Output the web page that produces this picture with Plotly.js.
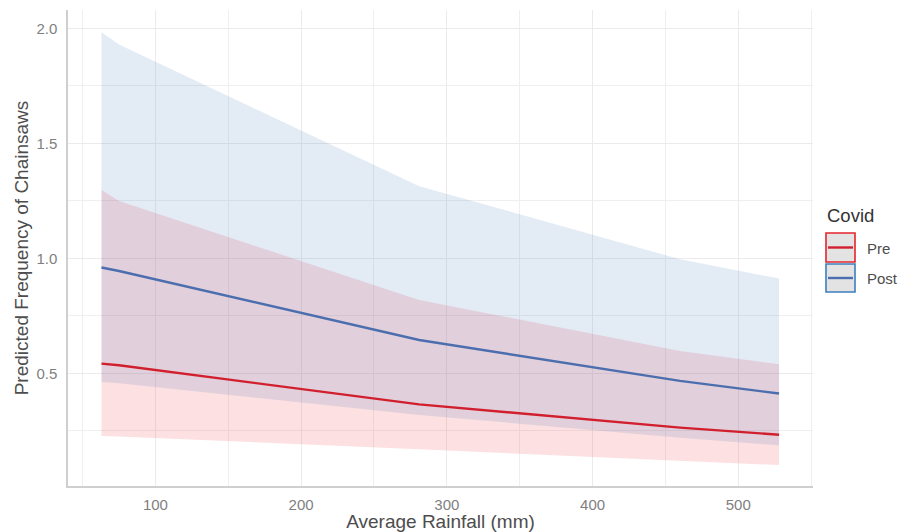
<!DOCTYPE html>
<html>
<head>
<meta charset="utf-8">
<script src="https://cdn.plot.ly/plotly-3.0.1.min.js"></script>
<style>
  html, body { margin: 0; padding: 0; background: #ffffff; }
  #chart { width: 909px; height: 532px; }
</style>
</head>
<body>
<div id="chart"></div>
<script>
// ---- data ----
const rainfall = [63, 75, 281, 460, 528];

const preFit   = [0.542, 0.535, 0.365, 0.264, 0.233];
const preLower = [0.227, 0.225, 0.170, 0.119, 0.101];
const preUpper = [1.297, 1.249, 0.819, 0.597, 0.539];

const postFit   = [0.960, 0.945, 0.645, 0.467, 0.412];
const postLower = [0.462, 0.457, 0.319, 0.220, 0.187];
const postUpper = [1.983, 1.930, 1.314, 0.996, 0.912];

const groupNames = ["Pre", "Post"];
const xTickVals = [100, 200, 300, 400, 500];
const yTickVals = [0.5, 1.0, 1.5, 2.0];
const yTickText = ["0.5", "1.0", "1.5", "2.0"];

// ---- styles ----
const preLine = "#D21F2E";
const postLine = "#4C6EAE";
const preFill = "rgba(240,60,70,0.16)";
const postFill = "rgba(70,120,190,0.15)";
const preBorder = "#E4242B";
const postBorder = "#3B7FBF";
const FONT = "Liberation Sans, Arial, Helvetica, sans-serif";

const traces = [
  { x: rainfall, y: preLower, type: "scatter", mode: "lines", line: { width: 0 }, hoverinfo: "skip", showlegend: false },
  { x: rainfall, y: preUpper, type: "scatter", mode: "lines", line: { width: 0 }, fill: "tonexty", fillcolor: preFill, hoverinfo: "skip", showlegend: false },
  { x: rainfall, y: postLower, type: "scatter", mode: "lines", line: { width: 0 }, hoverinfo: "skip", showlegend: false },
  { x: rainfall, y: postUpper, type: "scatter", mode: "lines", line: { width: 0 }, fill: "tonexty", fillcolor: postFill, hoverinfo: "skip", showlegend: false },
  { x: rainfall, y: preFit, name: groupNames[0], type: "scatter", mode: "lines", line: { color: preLine, width: 2.4 }, showlegend: false },
  { x: rainfall, y: postFit, name: groupNames[1], type: "scatter", mode: "lines", line: { color: postLine, width: 2.4 }, showlegend: false }
];

// plot area in pixels: left 68, right 813, top 10, bottom 486
const L = 68, R = 813, T = 10, B = 486;
const px = v => (v - L) / (R - L);
const py = v => (B - v) / (B - T);

const shapes = [
  { type: "rect", xref: "paper", yref: "paper", x0: px(826), x1: px(855), y0: py(262), y1: py(233),
    fillcolor: "#E3E3E3", line: { color: preBorder, width: 1.6 } },
  { type: "line", xref: "paper", yref: "paper", x0: px(828), x1: px(853), y0: py(247.5), y1: py(247.5),
    line: { color: preLine, width: 2.4 } },
  { type: "rect", xref: "paper", yref: "paper", x0: px(826), x1: px(855), y0: py(292), y1: py(264),
    fillcolor: "#E3E3E3", line: { color: postBorder, width: 1.6 } },
  { type: "line", xref: "paper", yref: "paper", x0: px(828), x1: px(853), y0: py(278), y1: py(278),
    line: { color: postLine, width: 2.4 } }
];

const annotations = [
  { text: "Covid", xref: "paper", yref: "paper", x: px(825), y: py(215), xanchor: "left", yanchor: "middle",
    showarrow: false, font: { family: FONT, size: 18.5, color: "#333333" } },
  { text: groupNames[0], xref: "paper", yref: "paper", x: px(865), y: py(248), xanchor: "left", yanchor: "middle",
    showarrow: false, font: { family: FONT, size: 15, color: "#4D4D4D" } },
  { text: groupNames[1], xref: "paper", yref: "paper", x: px(865), y: py(278), xanchor: "left", yanchor: "middle",
    showarrow: false, font: { family: FONT, size: 15, color: "#4D4D4D" } }
];

const layout = {
  width: 909, height: 532,
  margin: { l: L, r: 909 - R, t: T, b: 532 - B, pad: 0 },
  paper_bgcolor: "#ffffff",
  plot_bgcolor: "#ffffff",
  showlegend: false,
  font: { family: FONT, color: "#4D4D4D" },
  xaxis: {
    range: [40, 551.3],
    tickvals: xTickVals,
    ticks: "",
    showgrid: true, gridcolor: "#EBEBEB", gridwidth: 1.2,
    minor: { dtick: 50, tick0: 0, showgrid: true, gridcolor: "#EFEFEF", gridwidth: 1 },
    zeroline: false,
    showline: true, linecolor: "#CFCFCF", linewidth: 1.6,
    tickfont: { family: FONT, size: 15, color: "#7F7F7F" },
    ticklabelstandoff: 4,
    title: { text: "Average Rainfall (mm)", font: { family: FONT, size: 19, color: "#4D4D4D" }, standoff: 5 }
  },
  yaxis: {
    range: [0.01, 2.08],
    tickvals: yTickVals,
    ticktext: yTickText,
    ticks: "",
    showgrid: true, gridcolor: "#EBEBEB", gridwidth: 1.2,
    minor: { dtick: 0.25, tick0: 0, showgrid: true, gridcolor: "#EFEFEF", gridwidth: 1 },
    zeroline: false,
    showline: true, linecolor: "#CFCFCF", linewidth: 1.6,
    tickfont: { family: FONT, size: 15, color: "#7F7F7F" },
    ticklabelstandoff: 6,
    title: { text: "Predicted Frequency of Chainsaws", font: { family: FONT, size: 19, color: "#4D4D4D" }, standoff: 3 }
  },
  shapes: shapes,
  annotations: annotations
};

Plotly.newPlot("chart", traces, layout, { displayModeBar: false, staticPlot: true });
</script>
</body>
</html>
